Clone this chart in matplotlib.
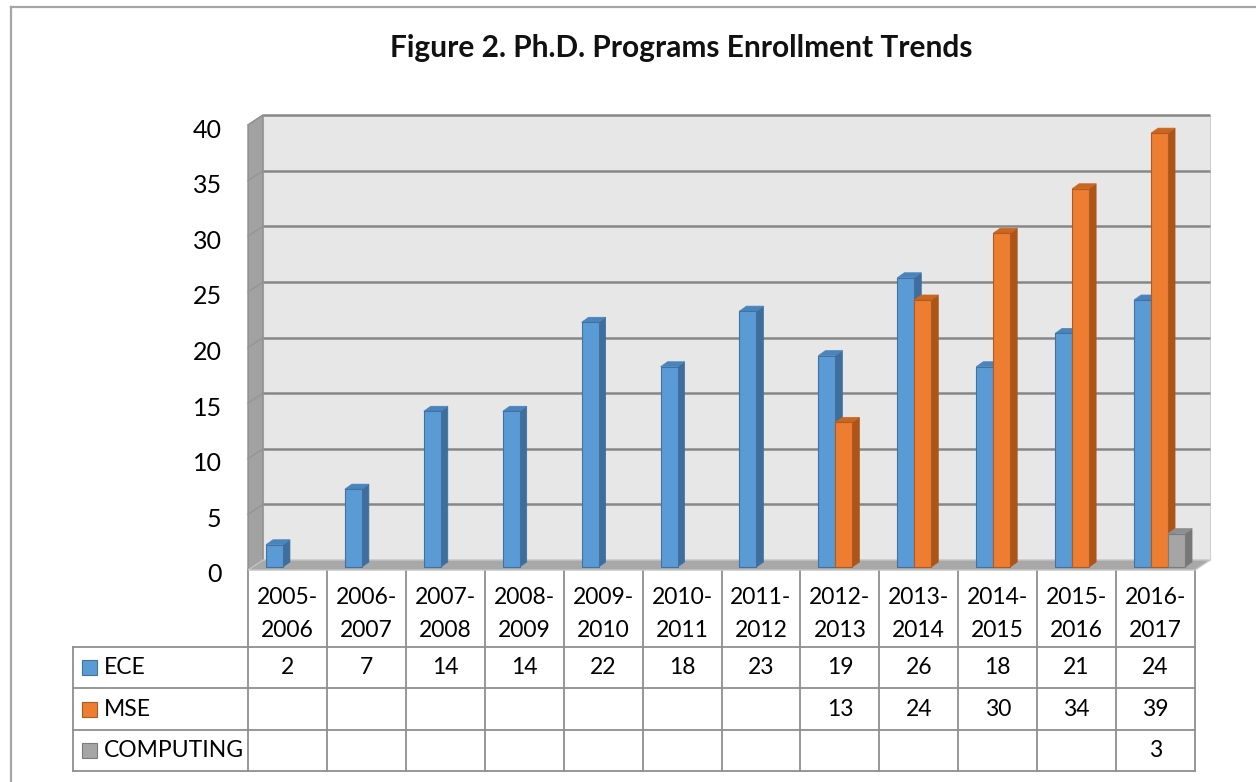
import matplotlib
matplotlib.use("Agg")
import matplotlib.pyplot as plt
from matplotlib.patches import Polygon, Rectangle
from matplotlib.transforms import ScaledTranslation

plt.rcParams["font.family"] = ["Lato", "DejaVu Sans"]

# ---- data ----
years = ["2005-\n2006", "2006-\n2007", "2007-\n2008", "2008-\n2009",
         "2009-\n2010", "2010-\n2011", "2011-\n2012", "2012-\n2013",
         "2013-\n2014", "2014-\n2015", "2015-\n2016", "2016-\n2017"]
series_names = ["ECE", "MSE", "COMPUTING"]
ece = [2, 7, 14, 14, 22, 18, 23, 19, 26, 18, 21, 24]
mse = [None, None, None, None, None, None, None, 13, 24, 30, 34, 39]
computing = [None] * 11 + [3]
yticks = [0, 5, 10, 15, 20, 25, 30, 35, 40]

# colours: front, top, side, edge
colors = {
    "ECE": ("#5b9bd5", "#4a84bd", "#3d6e9e", "#41719c"),
    "MSE": ("#ed7d31", "#c9661f", "#ad5519", "#ae5a21"),
    "COMPUTING": ("#a5a5a5", "#8e8e8e", "#777777", "#7b7b7b"),
}

W, H = 1256, 782
fig = plt.figure(figsize=(W / 100, H / 100), dpi=100)
fig.patch.set_facecolor("white")

# front plane of the 3-D box, in pixels
L, R, TOP, BOT = 248, 1195, 125, 570
ncat = len(years)

ov = fig.add_axes([0, 0, 1, 1], zorder=0)
ov.set_xlim(0, W); ov.set_ylim(H, 0); ov.axis("off")

ax = fig.add_axes([L / W, 1 - BOT / H, (R - L) / W, (BOT - TOP) / H], zorder=1)
ax.patch.set_alpha(0)
ax.set_xlim(-0.5, ncat - 0.5)
ax.set_ylim(0, 40)
for s in ax.spines.values():
    s.set_visible(False)
ax.set_xticks([])
ax.set_yticks(yticks)
ax.tick_params(axis="y", length=0, pad=19, labelsize=18)
for lab in ax.get_yticklabels():
    lab.set_transform(lab.get_transform() + ScaledTranslation(0, -0.03, fig.dpi_scale_trans))

px_x = (R - L) / ncat          # pixels per category
px_y = (BOT - TOP) / 40.0      # pixels per unit
DX, DY = 15 / px_x, 10 / px_y  # wall depth in data units

x0, x1 = -0.5, ncat - 0.5
# back wall
ax.add_patch(Polygon([(x0 + DX, DY), (x1 + DX, DY), (x1 + DX, 40 + DY), (x0 + DX, 40 + DY)],
                     closed=True, facecolor="#e7e7e7", edgecolor="#d0d0d0", lw=0.8,
                     clip_on=False, zorder=1))
# side wall
ax.add_patch(Polygon([(x0, 0), (x0 + DX, DY), (x0 + DX, 40 + DY), (x0, 40)],
                     closed=True, facecolor="#a2a2a2", edgecolor="#8c8c8c", lw=1.0,
                     clip_on=False, zorder=2))
for v in yticks[1:]:
    ax.plot([x0 + DX, x1 + DX], [v + DY, v + DY], color="#878787", lw=1.8,
            clip_on=False, zorder=2, solid_capstyle="butt")
    ax.plot([x0, x0 + DX], [v, v + DY], color="#949494", lw=1.0,
            clip_on=False, zorder=2)
# floor
ax.add_patch(Polygon([(x0, 0), (x1, 0), (x1 + DX, DY), (x0 + DX, DY)],
                     closed=True, facecolor="#a8a8a8", edgecolor="#c4c4c4", lw=1.0,
                     clip_on=False, zorder=3))

# bars
bw = 17 / px_x
bdx, bdy = 7 / px_x, 5 / px_y
sx, sy = 4 / px_x, 3 / px_y
all_series = [ece, mse, computing]
for i in range(ncat):
    for k, (name, vals) in enumerate(zip(series_names, all_series)):
        v = vals[i]
        if v is None:
            continue
        front, top, side, edge = colors[name]
        xl = i - 1.5 * bw + k * bw + sx
        xr = xl + bw
        yb = sy
        yt = sy + v
        ax.add_patch(Polygon([(xr, yb), (xr + bdx, yb + bdy), (xr + bdx, yt + bdy), (xr, yt)],
                             closed=True, facecolor=side, edgecolor=side, lw=0.5,
                             clip_on=False, zorder=4))
        ax.add_patch(Polygon([(xl, yt), (xr, yt), (xr + bdx, yt + bdy), (xl + bdx, yt + bdy)],
                             closed=True, facecolor=top, edgecolor=top, lw=0.5,
                             clip_on=False, zorder=4))
        ax.add_patch(Rectangle((xl, yb), bw, v, facecolor=front, edgecolor=edge, lw=0.8,
                               clip_on=False, zorder=4))

# title
ov.text(681, 57, "Figure 2. Ph.D. Programs Enrollment Trends", ha="center",
        va="baseline", fontsize=21.5, fontweight="bold", color="#111111")

# outer border (left and top visible)
ov.plot([11, 11], [H + 5, 7], color="#a6a6a6", lw=1.6)
ov.plot([11, W + 5], [7, 7], color="#a6a6a6", lw=1.6)

# data table
grid_c = "#8f8f8f"
row_y = [BOT, 647, 688, 730, 771]
col_x = [L + j * px_x for j in range(ncat + 1)]
hdr_l = 73
for yy in row_y[1:]:
    ov.plot([hdr_l, R], [yy, yy], color=grid_c, lw=1.3)
for xx in col_x:
    ov.plot([xx, xx], [row_y[0], row_y[-1]], color=grid_c, lw=1.3)
ov.plot([hdr_l, hdr_l], [row_y[1], row_y[-1]], color=grid_c, lw=1.3)

for j, lab in enumerate(years):
    ov.text((col_x[j] + col_x[j + 1]) / 2, 614, lab,
            ha="center", va="center", fontsize=16.5, linespacing=1.65, color="black")
for r, (name, vals) in enumerate(zip(series_names, all_series)):
    yc = (row_y[r + 1] + row_y[r + 2]) / 2
    front, top, side, edge = colors[name]
    ov.add_patch(Rectangle((82, yc - 7.5), 15, 15, facecolor=front, edgecolor=edge, lw=0.8))
    ov.text(104, yc, name, ha="left", va="center", fontsize=16.5, color="black")
    for j, v in enumerate(vals):
        if v is not None:
            ov.text((col_x[j] + col_x[j + 1]) / 2, yc, str(v), ha="center", va="center",
                    fontsize=16.5, color="black")

fig.savefig("out.png", dpi=100, facecolor="white")
